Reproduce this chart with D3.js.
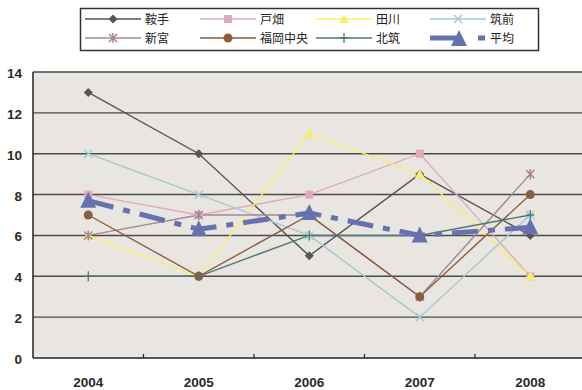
<!DOCTYPE html>
<html><head><meta charset="utf-8">
<script src="https://cdn.jsdelivr.net/npm/d3@7"></script>
<style>body{margin:0;background:#fff;}svg{display:block;}</style>
</head><body>
<svg id="c" width="582" height="390"></svg>
<script>
const years = ["2004","2005","2006","2007","2008"];
const yTicks = [0,2,4,6,8,10,12,14];
const seriesNames = ["鞍手","戸畑","田川","筑前","新宮","福岡中央","北筑","平均"];
const kurate   = [13,10,5,9,6];
const tobata   = [8,7,8,10,4];
const tagawa   = [6,4,11,9,4];
const chikuzen = [10,8,6,2,7];
const shingu   = [6,7,7,3,9];
const fukuokaChuo = [7,4,7,3,8];
const hokuchiku = [4,4,6,6,7];
const heikin   = [7.7,6.3,7.1,6.0,6.4];

const seriesValues = [kurate,tobata,tagawa,chikuzen,shingu,fukuokaChuo,hokuchiku,heikin];
const colors = ["#55555a","#e0aabb","#f7ee6e","#a3c9d3","#a88695","#8a5d3b","#4d7773","#6672b0"];
const markers = ["diamond","square","triangle","x","asterisk","circle","plus","bigtri"];

const svg = d3.select("#c");
const L=33,T=72,R=585.5,B=358;
const x = d3.scalePoint().domain(years).range([L,R]).padding(0.5);
const y = d3.scaleLinear().domain([0,14]).range([B,T]);

// plot background
svg.append("rect").attr("x",L).attr("y",T).attr("width",582-L).attr("height",B-T).attr("fill","#e9e6e1");

// grid
svg.append("g").selectAll("line").data(yTicks.filter(d=>d>0)).join("line")
  .attr("x1",L).attr("x2",582).attr("y1",d=>y(d)).attr("y2",d=>y(d))
  .attr("stroke","#4a4a4a").attr("stroke-width",1.4);

// axes
svg.append("line").attr("x1",L).attr("x2",L).attr("y1",T).attr("y2",B).attr("stroke","#222").attr("stroke-width",1.5);
svg.append("line").attr("x1",L).attr("x2",582).attr("y1",B).attr("y2",B).attr("stroke","#222").attr("stroke-width",1.5);

// category separators (ticks inside)
const step = x.step();
svg.append("g").selectAll("line").data(years.slice(0,-1)).join("line")
  .attr("x1",d=>x(d)+step/2).attr("x2",d=>x(d)+step/2).attr("y1",B).attr("y2",B-4)
  .attr("stroke","#222").attr("stroke-width",1.2);

// y labels
svg.append("g").selectAll("text").data(yTicks).join("text")
  .attr("x",22).attr("y",d=>y(d)+6).attr("text-anchor","end")
  .attr("font-family","Liberation Sans, Arial, sans-serif").attr("font-size",13.5).attr("font-weight","bold")
  .attr("fill","#2a2a2a").text(d=>d);

// x labels
svg.append("g").selectAll("text").data(years).join("text")
  .attr("x",d=>x(d)).attr("y",387).attr("text-anchor","middle")
  .attr("font-family","Liberation Sans, Arial, sans-serif").attr("font-size",13.5).attr("font-weight","bold")
  .attr("fill","#2a2a2a").text(d=>d);

function drawMarker(g, type, cx, cy, color){
  const s=4.5;
  if(type==="diamond"){
    g.append("path").attr("d",`M${cx},${cy-s}L${cx+s},${cy}L${cx},${cy+s}L${cx-s},${cy}Z`).attr("fill",color);
  } else if(type==="square"){
    g.append("rect").attr("x",cx-4).attr("y",cy-4).attr("width",8).attr("height",8).attr("fill",color);
  } else if(type==="triangle"){
    g.append("path").attr("d",`M${cx},${cy-5}L${cx+5},${cy+4}L${cx-5},${cy+4}Z`).attr("fill",color);
  } else if(type==="x"){
    g.append("path").attr("d",`M${cx-4},${cy-4}L${cx+4},${cy+4}M${cx+4},${cy-4}L${cx-4},${cy+4}`).attr("stroke",color).attr("stroke-width",1.5);
  } else if(type==="asterisk"){
    g.append("path").attr("d",`M${cx-4},${cy-4}L${cx+4},${cy+4}M${cx+4},${cy-4}L${cx-4},${cy+4}M${cx},${cy-5}L${cx},${cy+5}`).attr("stroke",color).attr("stroke-width",1.5);
  } else if(type==="circle"){
    g.append("circle").attr("cx",cx).attr("cy",cy).attr("r",4.5).attr("fill",color);
  } else if(type==="plus"){
    g.append("path").attr("d",`M${cx},${cy-5}L${cx},${cy+5}M${cx-4},${cy}L${cx+4},${cy}`).attr("stroke",color).attr("stroke-width",1.3);
  } else if(type==="bigtri"){
    g.append("path").attr("d",`M${cx},${cy-9}L${cx+8},${cy+7}L${cx-8},${cy+7}Z`).attr("fill",color);
  }
}

const line = d3.line().x((d,i)=>x(years[i])).y(d=>y(d));
const plot = svg.append("g");
seriesValues.forEach((vals,k)=>{
  const isAvg = k===7;
  plot.append("path").attr("d",line(vals)).attr("fill","none")
    .attr("stroke",colors[k]).attr("stroke-width",isAvg?5:1.4)
    .attr("stroke-dasharray",isAvg?"26,10,7,10":null);
});
seriesValues.forEach((vals,k)=>{
  const g = plot.append("g");
  vals.forEach((v,i)=>drawMarker(g,markers[k],x(years[i]),y(v),colors[k]));
});

// legend
const lg = svg.append("g");
lg.append("rect").attr("x",80.5).attr("y",8.5).attr("width",458).attr("height",42)
  .attr("fill","#fff").attr("stroke","#333").attr("stroke-width",1.5);
const colX = [85,200,316,430];
const rowY = [19,38];
seriesNames.forEach((name,k)=>{
  const cx = colX[k%4], cy = rowY[Math.floor(k/4)];
  const g = lg.append("g");
  if(k===7){
    g.append("line").attr("x1",cx).attr("x2",cx+28).attr("y1",cy).attr("y2",cy).attr("stroke",colors[k]).attr("stroke-width",5);
    drawMarker(g,"bigtri",cx+29,cy+1,colors[k]);
    g.append("line").attr("x1",cx+48).attr("x2",cx+55).attr("y1",cy).attr("y2",cy).attr("stroke",colors[k]).attr("stroke-width",5);
  } else {
    g.append("line").attr("x1",cx).attr("x2",cx+56).attr("y1",cy).attr("y2",cy).attr("stroke",colors[k]).attr("stroke-width",1.4);
    drawMarker(g,markers[k],cx+28,cy,colors[k]);
  }
  g.append("text").attr("x",cx+60).attr("y",cy+4.5)
    .attr("font-family","Noto Sans CJK JP, sans-serif").attr("font-size",12)
    .attr("fill","#222").text(name);
});
</script>
</body></html>
